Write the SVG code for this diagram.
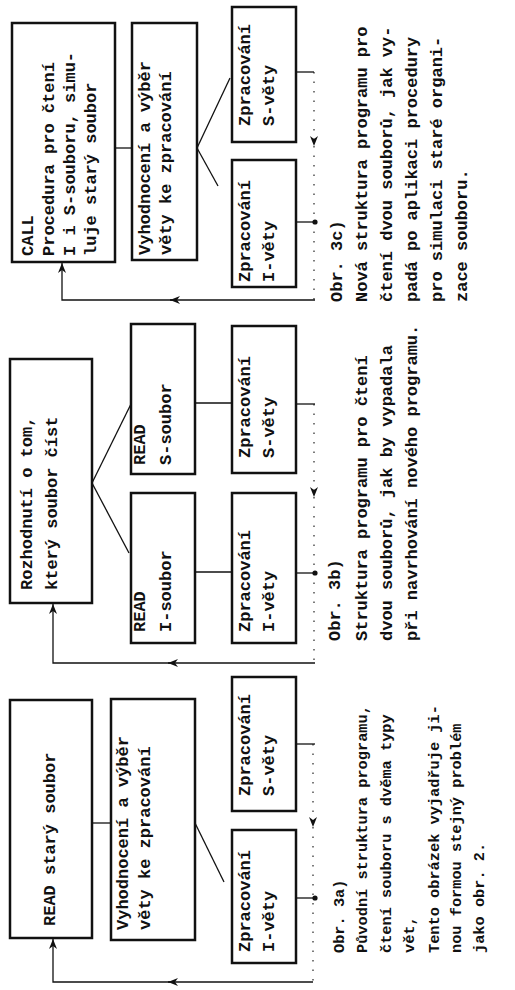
<svg xmlns="http://www.w3.org/2000/svg" width="515" height="990" viewBox="0 0 515 990">
<style>
.t{font-family:"Liberation Mono","DejaVu Sans Mono",monospace;font-weight:bold;font-size:17px;fill:#111}
.ca{font-size:15.3px}
.box{fill:none;stroke:#111;stroke-width:2.5}
.ln{fill:none;stroke:#111;stroke-width:1.3}
.dt{stroke-dasharray:1.5 8;stroke-width:1.1}
</style>
<defs>
<marker id="arr" viewBox="0 0 10 8" refX="10" refY="4" markerWidth="10" markerHeight="8" markerUnits="userSpaceOnUse" orient="auto"><path d="M0,0 L10,4 L0,8 L3,4 z" fill="#111"/></marker>
<marker id="dot" viewBox="0 0 6 6" refX="3" refY="3" markerWidth="6" markerHeight="6" markerUnits="userSpaceOnUse"><circle cx="3" cy="3" r="2.6" fill="#111"/></marker>
</defs>
<rect width="515" height="990" fill="#fff"/>

<!-- Figure 3c -->
<g id="c_call">
<rect class="box" x="12" y="23" width="103" height="239"/>
<text class="t" transform="translate(33 256) rotate(-90)">CALL</text>
<text class="t" transform="translate(54 256) rotate(-90)">Procedura pro čtení</text>
<text class="t" transform="translate(75 256) rotate(-90)">I i S-souboru, simu-</text>
<text class="t" transform="translate(96 256) rotate(-90)">luje starý soubor</text>
</g>
<g id="c_vyhod">
<rect class="box" x="132" y="23" width="65" height="237"/>
<text class="t" transform="translate(150 255) rotate(-90)">Vyhodnocení a výběr</text>
<text class="t" transform="translate(171 255) rotate(-90)">věty ke zpracování</text>
</g>
<g id="c_zprS">
<rect class="box" x="232" y="7" width="64" height="135"/>
<text class="t" transform="translate(250 126) rotate(-90)">Zpracování</text>
<text class="t" transform="translate(274 126) rotate(-90)">S-věty</text>
</g>
<g id="c_zprI">
<rect class="box" x="232" y="160" width="64" height="127"/>
<text class="t" transform="translate(250 282) rotate(-90)">Zpracování</text>
<text class="t" transform="translate(274 282) rotate(-90)">I-věty</text>
</g>
<g id="c_caption">
<text class="t" transform="translate(342 302) rotate(-90)">Obr. 3c)</text>
<text class="t" transform="translate(367 302) rotate(-90)">Nová struktura programu pro</text>
<text class="t" transform="translate(392 302) rotate(-90)">čtení dvou souborů, jak vy-</text>
<text class="t" transform="translate(417 302) rotate(-90)">padá po aplikaci procedury</text>
<text class="t" transform="translate(442 302) rotate(-90)">pro simulaci staré organi-</text>
<text class="t" transform="translate(467 302) rotate(-90)">zace souboru.</text>
</g>

<!-- Figure 3b -->
<g id="b_rozh">
<rect class="box" x="10" y="359" width="82" height="244"/>
<text class="t" transform="translate(32 590) rotate(-90)">Rozhodnutí o tom,</text>
<text class="t" transform="translate(57 590) rotate(-90)">který soubor číst</text>
</g>
<g id="b_readS">
<rect class="box" x="131" y="324" width="64" height="150"/>
<text class="t" transform="translate(145 465) rotate(-90)">READ</text>
<text class="t" transform="translate(171 465) rotate(-90)">S-soubor</text>
</g>
<g id="b_readI">
<rect class="box" x="131" y="493" width="64" height="150"/>
<text class="t" transform="translate(145 632) rotate(-90)">READ</text>
<text class="t" transform="translate(171 632) rotate(-90)">I-soubor</text>
</g>
<g id="b_zprS">
<rect class="box" x="232" y="326" width="64" height="147"/>
<text class="t" transform="translate(250 458) rotate(-90)">Zpracování</text>
<text class="t" transform="translate(274 458) rotate(-90)">S-věty</text>
</g>
<g id="b_zprI">
<rect class="box" x="232" y="493" width="64" height="150"/>
<text class="t" transform="translate(250 632) rotate(-90)">Zpracování</text>
<text class="t" transform="translate(274 632) rotate(-90)">I-věty</text>
</g>
<g id="b_caption">
<text class="t" transform="translate(340 641) rotate(-90)">Obr. 3b)</text>
<text class="t" transform="translate(367 641) rotate(-90)">Struktura programu pro čtení</text>
<text class="t" transform="translate(392 641) rotate(-90)">dvou souborů, jak by vypadala</text>
<text class="t" transform="translate(417 641) rotate(-90)">při navrhování nového programu.</text>
</g>

<!-- Figure 3a -->
<g id="a_read">
<rect class="box" x="10" y="700" width="82" height="238"/>
<text class="t" transform="translate(55 926) rotate(-90)">READ starý soubor</text>
</g>
<g id="a_vyhod">
<rect class="box" x="111" y="699" width="84" height="241"/>
<text class="t" transform="translate(128 930) rotate(-90)">Vyhodnocení a výběr</text>
<text class="t" transform="translate(150 930) rotate(-90)">věty ke zpracování</text>
</g>
<g id="a_zprS">
<rect class="box" x="232" y="677" width="64" height="134"/>
<text class="t" transform="translate(250 796) rotate(-90)">Zpracování</text>
<text class="t" transform="translate(274 796) rotate(-90)">S-věty</text>
</g>
<g id="a_zprI">
<rect class="box" x="232" y="830" width="64" height="133"/>
<text class="t" transform="translate(250 952) rotate(-90)">Zpracování</text>
<text class="t" transform="translate(274 952) rotate(-90)">I-věty</text>
</g>
<g id="a_caption">
<text class="t ca" transform="translate(344 953) rotate(-90)">Obr. 3a)</text>
<text class="t ca" transform="translate(367 953) rotate(-90)">Původní struktura programu,</text>
<text class="t ca" transform="translate(391 953) rotate(-90)">čtení souboru s dvěma typy</text>
<text class="t ca" transform="translate(414 953) rotate(-90)">vět,</text>
<text class="t ca" transform="translate(439 953) rotate(-90)">Tento obrázek vyjadřuje ji-</text>
<text class="t ca" transform="translate(461 953) rotate(-90)">nou formou stejný problém</text>
<text class="t ca" transform="translate(484 953) rotate(-90)">jako obr. 2.</text>
</g>

<g id="connectors">
<!-- 3c -->
<path class="ln" d="M115,148 H132"/>
<path class="ln" d="M197,148 L230,78"/>
<path class="ln" d="M197,148 L218,186"/>
<path class="ln" d="M296,72 H314"/>
<path class="ln dt" d="M314,72 V146" marker-end="url(#arr)"/>
<path class="ln dt" d="M314,146 V300"/>
<path class="ln" d="M296,222 H315" marker-end="url(#dot)"/>
<path class="ln" d="M315,300 H170" marker-end="url(#arr)"/>
<path class="ln" d="M172,300 H62 V263" marker-end="url(#arr)"/>
<!-- 3b -->
<path class="ln" d="M92,483 L131,404"/>
<path class="ln" d="M92,483 L129,553"/>
<path class="ln" d="M195,403 H232"/>
<path class="ln" d="M195,572 H232"/>
<path class="ln" d="M296,404 H315"/>
<path class="ln dt" d="M314,404 V497" marker-end="url(#arr)"/>
<path class="ln dt" d="M314,497 V663"/>
<path class="ln" d="M296,573 H315" marker-end="url(#dot)"/>
<path class="ln" d="M315,663 H168" marker-end="url(#arr)"/>
<path class="ln" d="M170,663 H53 V604" marker-end="url(#arr)"/>
<!-- 3a -->
<path class="ln" d="M92,823 H111"/>
<path class="ln" d="M195,823 L224,882"/>
<path class="ln" d="M296,744 H315"/>
<path class="ln dt" d="M313,744 V827" marker-end="url(#arr)"/>
<path class="ln dt" d="M313,827 V982"/>
<path class="ln" d="M296,898 H315" marker-end="url(#dot)"/>
<path class="ln" d="M313,982 H168" marker-end="url(#arr)"/>
<path class="ln" d="M170,982 H53 V939" marker-end="url(#arr)"/>
</g>
</svg>
